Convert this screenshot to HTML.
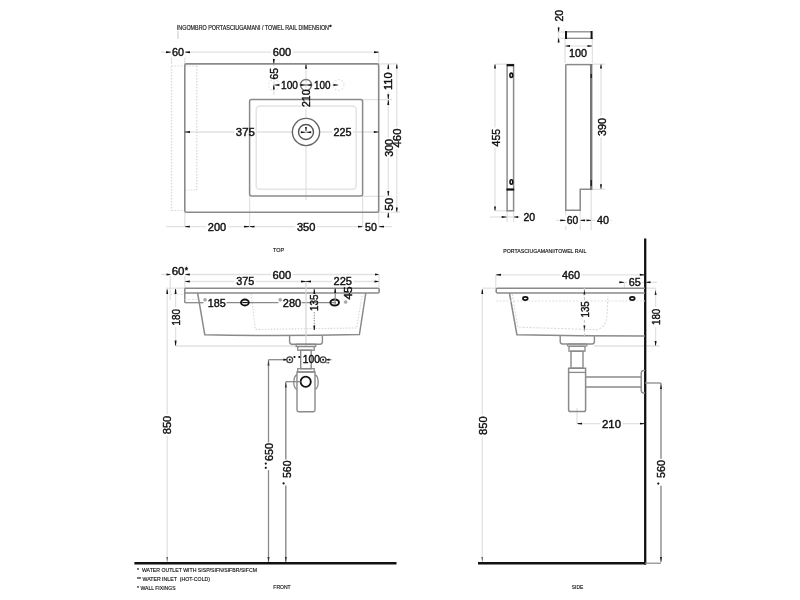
<!DOCTYPE html>
<html><head><meta charset="utf-8"><style>html,body{margin:0;padding:0;background:#fff;width:800px;height:600px;overflow:hidden}svg{display:block;will-change:transform}text{font-family:"Liberation Sans",sans-serif;fill:#111;stroke:#111;stroke-width:0.42px}text.sm{stroke-width:0.15px}</style></head>
<body><svg width="800" height="600" viewBox="0 0 800 600">
<rect x="0" y="0" width="800" height="600" fill="#fff"/>
<line x1="161" y1="52.2" x2="379" y2="52.2" stroke="#e2e2e2" stroke-width="1.3" />
<line x1="171.5" y1="52.2" x2="171.5" y2="64" stroke="#e2e2e2" stroke-width="1.3" />
<line x1="184.8" y1="52.2" x2="184.8" y2="64" stroke="#e2e2e2" stroke-width="1.3" />
<line x1="378.7" y1="52.2" x2="378.7" y2="64" stroke="#e2e2e2" stroke-width="1.3" />
<line x1="306" y1="64" x2="306" y2="200" stroke="#e2e2e2" stroke-width="1.3" />
<line x1="184.8" y1="132" x2="378.7" y2="132" stroke="#e2e2e2" stroke-width="1.3" />
<line x1="273.8" y1="52" x2="273.8" y2="95" stroke="#e2e2e2" stroke-width="1.3" />
<line x1="274" y1="85" x2="338.5" y2="85" stroke="#e2e2e2" stroke-width="1.3" />
<line x1="378.7" y1="63.9" x2="398" y2="63.9" stroke="#e2e2e2" stroke-width="1.3" />
<line x1="362.6" y1="99.6" x2="392" y2="99.6" stroke="#e2e2e2" stroke-width="1.3" />
<line x1="362.6" y1="196.3" x2="392" y2="196.3" stroke="#e2e2e2" stroke-width="1.3" />
<line x1="378.7" y1="212.2" x2="400" y2="212.2" stroke="#e2e2e2" stroke-width="1.3" />
<line x1="388.3" y1="64" x2="388.3" y2="218" stroke="#e2e2e2" stroke-width="1.3" />
<line x1="396.8" y1="64" x2="396.8" y2="213" stroke="#e2e2e2" stroke-width="1.3" />
<line x1="166" y1="226.6" x2="392" y2="226.6" stroke="#e2e2e2" stroke-width="1.3" />
<line x1="184.8" y1="212.5" x2="184.8" y2="226.6" stroke="#e2e2e2" stroke-width="1.3" />
<line x1="249.6" y1="196" x2="249.6" y2="226.6" stroke="#e2e2e2" stroke-width="1.3" />
<line x1="362.6" y1="196" x2="362.6" y2="226.6" stroke="#e2e2e2" stroke-width="1.3" />
<line x1="378.7" y1="212.5" x2="378.7" y2="226.6" stroke="#e2e2e2" stroke-width="1.3" />
<line x1="558.6" y1="26" x2="558.6" y2="43" stroke="#e2e2e2" stroke-width="1.3" />
<line x1="557" y1="32" x2="565" y2="32" stroke="#e2e2e2" stroke-width="1.3" />
<line x1="557" y1="38.2" x2="565" y2="38.2" stroke="#e2e2e2" stroke-width="1.3" />
<line x1="565" y1="38" x2="565" y2="63" stroke="#e2e2e2" stroke-width="1.3" />
<line x1="592.4" y1="38" x2="592.4" y2="63" stroke="#e2e2e2" stroke-width="1.3" />
<line x1="565" y1="46" x2="592.4" y2="46" stroke="#e2e2e2" stroke-width="1.3" />
<line x1="495" y1="64" x2="495" y2="211" stroke="#e2e2e2" stroke-width="1.3" />
<line x1="495" y1="64.2" x2="507" y2="64.2" stroke="#e2e2e2" stroke-width="1.3" />
<line x1="495" y1="210.8" x2="507" y2="210.8" stroke="#e2e2e2" stroke-width="1.3" />
<line x1="490" y1="217" x2="520" y2="217" stroke="#e2e2e2" stroke-width="1.3" />
<line x1="507.1" y1="211" x2="507.1" y2="222" stroke="#e2e2e2" stroke-width="1.3" />
<line x1="513.6" y1="211" x2="513.6" y2="222" stroke="#e2e2e2" stroke-width="1.3" />
<line x1="592" y1="64.2" x2="605" y2="64.2" stroke="#e2e2e2" stroke-width="1.3" />
<line x1="592" y1="189.3" x2="605" y2="189.3" stroke="#e2e2e2" stroke-width="1.3" />
<line x1="601" y1="64" x2="601" y2="189" stroke="#e2e2e2" stroke-width="1.3" />
<line x1="556" y1="220.4" x2="612" y2="220.4" stroke="#e2e2e2" stroke-width="1.3" />
<line x1="565.8" y1="210" x2="565.8" y2="230" stroke="#e2e2e2" stroke-width="1.3" />
<line x1="580.2" y1="210" x2="580.2" y2="230" stroke="#e2e2e2" stroke-width="1.3" />
<line x1="591.2" y1="190" x2="591.2" y2="230" stroke="#e2e2e2" stroke-width="1.3" />
<line x1="161" y1="274.5" x2="379" y2="274.5" stroke="#e2e2e2" stroke-width="1.3" />
<line x1="170.2" y1="274.5" x2="170.2" y2="300" stroke="#e2e2e2" stroke-width="1.3" />
<line x1="184.8" y1="274.5" x2="184.8" y2="288" stroke="#e2e2e2" stroke-width="1.3" />
<line x1="184.8" y1="281.5" x2="379" y2="281.5" stroke="#e2e2e2" stroke-width="1.3" />
<line x1="379" y1="274.5" x2="379" y2="288" stroke="#e2e2e2" stroke-width="1.3" />
<line x1="165.7" y1="288.2" x2="184.8" y2="288.2" stroke="#e2e2e2" stroke-width="1.3" />
<line x1="167.2" y1="288.2" x2="167.2" y2="563" stroke="#e2e2e2" stroke-width="1.3" />
<line x1="175.6" y1="288.2" x2="175.6" y2="308" stroke="#e2e2e2" stroke-width="1.3" />
<line x1="175.6" y1="326" x2="175.6" y2="346" stroke="#e2e2e2" stroke-width="1.3" />
<line x1="175.6" y1="346" x2="296" y2="346" stroke="#e2e2e2" stroke-width="1.3" />
<line x1="495.8" y1="274.8" x2="645" y2="274.8" stroke="#e2e2e2" stroke-width="1.3" />
<line x1="495.8" y1="274.8" x2="495.8" y2="288" stroke="#e2e2e2" stroke-width="1.3" />
<line x1="618.7" y1="282.3" x2="657" y2="282.3" stroke="#e2e2e2" stroke-width="1.3" />
<line x1="624.4" y1="282.3" x2="624.4" y2="288" stroke="#e2e2e2" stroke-width="1.3" />
<line x1="482.3" y1="289" x2="482.3" y2="563" stroke="#e2e2e2" stroke-width="1.3" />
<line x1="482.3" y1="288.2" x2="496" y2="288.2" stroke="#e2e2e2" stroke-width="1.3" />
<line x1="645" y1="288.2" x2="656" y2="288.2" stroke="#e2e2e2" stroke-width="1.3" />
<line x1="655.6" y1="288.2" x2="655.6" y2="307" stroke="#e2e2e2" stroke-width="1.3" />
<line x1="655.6" y1="327" x2="655.6" y2="346" stroke="#e2e2e2" stroke-width="1.3" />
<line x1="594" y1="346" x2="660" y2="346" stroke="#e2e2e2" stroke-width="1.3" />
<line x1="577" y1="408" x2="577" y2="423.6" stroke="#e2e2e2" stroke-width="1.3" />
<line x1="577" y1="423.6" x2="645" y2="423.6" stroke="#e2e2e2" stroke-width="1.3" />
<rect x="170.5" y="47" width="15" height="10.5" fill="#fff"/>
<rect x="271.3" y="46.8" width="21.399999999999977" height="10.5" fill="#fff"/>
<rect x="234.3" y="126.80000000000001" width="22.0" height="10.5" fill="#fff"/>
<rect x="332.1" y="126.80000000000001" width="21.0" height="10.5" fill="#fff"/>
<rect x="269" y="66.5" width="10.5" height="14.5" fill="#fff"/>
<rect x="279.5" y="79.6" width="20" height="10.5" fill="#fff"/>
<rect x="312.5" y="79.6" width="19.5" height="10.5" fill="#fff"/>
<rect x="301.2" y="88.0" width="10.5" height="20.5" fill="#fff"/>
<rect x="383" y="71.0" width="10.5" height="20.5" fill="#fff"/>
<rect x="383.8" y="137.5" width="10.5" height="20.80000000000001" fill="#fff"/>
<rect x="391.9" y="127.1" width="10.5" height="21.80000000000001" fill="#fff"/>
<rect x="383.5" y="196.4" width="10.5" height="15.799999999999983" fill="#fff"/>
<rect x="206.3" y="221.8" width="21.399999999999977" height="10.5" fill="#fff"/>
<rect x="295.4" y="221.8" width="21.5" height="10.5" fill="#fff"/>
<rect x="363.5" y="221.8" width="14.899999999999977" height="10.5" fill="#fff"/>
<rect x="553.6" y="8.5" width="10.5" height="14.600000000000001" fill="#fff"/>
<rect x="567.5" y="48.4" width="21" height="10.5" fill="#fff"/>
<rect x="490.6" y="127.5" width="10.5" height="20.400000000000006" fill="#fff"/>
<rect x="522.0" y="211.6" width="14.700000000000045" height="10.5" fill="#fff"/>
<rect x="597" y="116.5" width="10.5" height="21" fill="#fff"/>
<rect x="565.2" y="215.4" width="14.5" height="10.5" fill="#fff"/>
<rect x="595.5" y="215.4" width="15" height="10.5" fill="#fff"/>
<rect x="170.2" y="265.5" width="15.800000000000011" height="10.5" fill="#fff"/>
<rect x="271.1" y="269.6" width="21.599999999999966" height="10.5" fill="#fff"/>
<rect x="234.7" y="276.4" width="21.0" height="10.5" fill="#fff"/>
<rect x="332.0" y="276.4" width="21.5" height="10.5" fill="#fff"/>
<rect x="206.2" y="297.6" width="21.0" height="10.5" fill="#fff"/>
<rect x="281.3" y="297.6" width="21.30000000000001" height="10.5" fill="#fff"/>
<rect x="309.4" y="292.9" width="10.5" height="19.600000000000023" fill="#fff"/>
<rect x="343.4" y="285.0" width="10.5" height="16.100000000000023" fill="#fff"/>
<rect x="162.3" y="414.2" width="10.5" height="21.600000000000023" fill="#fff"/>
<rect x="171" y="307.5" width="10.5" height="19.5" fill="#fff"/>
<rect x="301.3" y="354.2" width="20.19999999999999" height="10.5" fill="#fff"/>
<rect x="264" y="441.5" width="10.5" height="21" fill="#fff"/>
<rect x="281.5" y="459.0" width="10.5" height="20.5" fill="#fff"/>
<rect x="560.5" y="269.9" width="21" height="10.5" fill="#fff"/>
<rect x="627.2" y="277.2" width="15.0" height="10.5" fill="#fff"/>
<rect x="580.3" y="299.8" width="10.5" height="19.19999999999999" fill="#fff"/>
<rect x="477.7" y="414.8" width="10.5" height="21.69999999999999" fill="#fff"/>
<rect x="651.4" y="307.3" width="10.5" height="19.19999999999999" fill="#fff"/>
<rect x="600.5" y="418.7" width="22" height="10.5" fill="#fff"/>
<rect x="656" y="458.5" width="10.5" height="20.899999999999977" fill="#fff"/>
<text class="sm" x="176.8" y="29.8" font-size="6.4" textLength="152.2" lengthAdjust="spacingAndGlyphs">INGOMBRO PORTASCIUGAMANI / TOWEL RAIL DIMENSION</text>
<text x="329.3" y="28.5" font-size="6" text-anchor="start" fill="#111" >*</text>
<line x1="178" y1="31.5" x2="178" y2="39" stroke="#888" stroke-width="0.9" stroke-dasharray="1,1"/>
<polygon points="166.00,53.15 170.80,52.55 170.80,51.85 166.00,51.25" fill="#111"/>
<polygon points="190.00,51.25 185.20,51.85 185.20,52.55 190.00,53.15" fill="#111"/>
<polygon points="374.00,53.15 378.60,52.55 378.60,51.85 374.00,51.25" fill="#111"/>
<text x="172" y="56" font-size="11" textLength="12" lengthAdjust="spacingAndGlyphs">60</text>
<text x="272.8" y="55.8" font-size="11" textLength="18.399999999999977" lengthAdjust="spacingAndGlyphs">600</text>
<line x1="171.5" y1="66" x2="171.5" y2="211" stroke="#d8d8d8" stroke-width="1.3" stroke-dasharray="1.5,1.5"/>
<line x1="196.8" y1="66" x2="196.8" y2="190" stroke="#d8d8d8" stroke-width="1.3" stroke-dasharray="1.5,1.5"/>
<line x1="171.5" y1="66" x2="197" y2="66" stroke="#d8d8d8" stroke-width="1.1" stroke-dasharray="1.5,1.5"/>
<line x1="184.8" y1="190" x2="197" y2="190" stroke="#d8d8d8" stroke-width="1.1" stroke-dasharray="1.5,1.5"/>
<line x1="171.5" y1="210.5" x2="184.8" y2="210.5" stroke="#d8d8d8" stroke-width="1.1" stroke-dasharray="1.5,1.5"/>
<rect x="184.8" y="63.9" width="193.9" height="148.4" rx="1.5" stroke="#8a8a8a" stroke-width="1.6" fill="none" />
<rect x="249.6" y="99.6" width="113" height="96.3" rx="2" stroke="#8a8a8a" stroke-width="1.5" fill="none" />
<rect x="256.2" y="105.9" width="100" height="83.4" rx="3.5" stroke="#e4e4e4" stroke-width="1.5" fill="none" />
<polygon points="190.00,131.05 184.80,131.65 184.80,132.35 190.00,132.95" fill="#111"/>
<polygon points="373.80,132.95 378.60,132.35 378.60,131.65 373.80,131.05" fill="#111"/>
<text x="235.8" y="135.8" font-size="11" textLength="19.0" lengthAdjust="spacingAndGlyphs">375</text>
<text x="333.6" y="135.8" font-size="11" textLength="18.0" lengthAdjust="spacingAndGlyphs">225</text>
<circle cx="306" cy="132" r="13.6" stroke="#666" stroke-width="1.4" fill="#fff" />
<circle cx="306" cy="132" r="7.5" stroke="#555" stroke-width="1.4" fill="none" />
<polygon points="300.80,133.15 305.60,132.50 305.60,131.90 300.80,131.25" fill="#111"/>
<polygon points="311.20,131.25 306.40,131.90 306.40,132.50 311.20,133.15" fill="#111"/>
<polygon points="305.10,127.00 305.70,131.50 306.30,131.50 306.90,127.00" fill="#111"/>
<circle cx="306" cy="85" r="5.5" stroke="#777" stroke-width="1.4" fill="none" />
<circle cx="274" cy="85" r="5.5" stroke="#e6e6e6" stroke-width="1.1" fill="none" stroke-dasharray="2,1.5"/>
<circle cx="338.5" cy="85" r="5.5" stroke="#e6e6e6" stroke-width="1.1" fill="none" stroke-dasharray="2,1.5"/>
<polygon points="306.95,68.80 306.35,64.40 305.65,64.40 305.05,68.80" fill="#111"/>
<polygon points="272.85,59.00 273.45,63.60 274.15,63.60 274.75,59.00" fill="#111"/>
<polygon points="274.75,89.60 274.15,85.20 273.45,85.20 272.85,89.60" fill="#111"/>
<text transform="translate(278,79.5) rotate(-90)" font-size="11" textLength="11.5" lengthAdjust="spacingAndGlyphs">65</text>
<polygon points="279.30,84.05 274.50,84.65 274.50,85.35 279.30,85.95" fill="#111"/>
<polygon points="333.50,85.95 338.00,85.35 338.00,84.65 333.50,84.05" fill="#111"/>
<text x="281" y="88.6" font-size="11" textLength="17" lengthAdjust="spacingAndGlyphs">100</text>
<text x="314" y="88.6" font-size="11" textLength="16.5" lengthAdjust="spacingAndGlyphs">100</text>
<polygon points="300.50,85.95 306.00,85.35 306.00,84.65 300.50,84.05" fill="#111"/>
<polygon points="311.50,84.05 306.00,84.65 306.00,85.35 311.50,85.95" fill="#111"/>
<text transform="translate(310.2,107) rotate(-90)" font-size="11" textLength="17.5" lengthAdjust="spacingAndGlyphs">210</text>
<polygon points="389.25,69.00 388.65,64.50 387.95,64.50 387.35,69.00" fill="#111"/>
<polygon points="387.35,94.20 387.95,99.00 388.65,99.00 389.25,94.20" fill="#111"/>
<polygon points="389.25,105.00 388.65,100.20 387.95,100.20 387.35,105.00" fill="#111"/>
<polygon points="397.75,68.50 397.15,64.50 396.45,64.50 395.85,68.50" fill="#111"/>
<polygon points="395.85,207.50 396.45,211.80 397.15,211.80 397.75,207.50" fill="#111"/>
<polygon points="387.35,191.00 387.95,195.80 388.65,195.80 389.25,191.00" fill="#111"/>
<polygon points="389.25,217.60 388.65,212.80 387.95,212.80 387.35,217.60" fill="#111"/>
<text transform="translate(392,90) rotate(-90)" font-size="11" textLength="17.5" lengthAdjust="spacingAndGlyphs">110</text>
<text transform="translate(392.8,156.8) rotate(-90)" font-size="11" textLength="17.80000000000001" lengthAdjust="spacingAndGlyphs">300</text>
<text transform="translate(400.9,147.4) rotate(-90)" font-size="11" textLength="18.80000000000001" lengthAdjust="spacingAndGlyphs">460</text>
<text transform="translate(392.5,210.7) rotate(-90)" font-size="11" textLength="12.799999999999983" lengthAdjust="spacingAndGlyphs">50</text>
<polygon points="189.80,225.65 185.20,226.25 185.20,226.95 189.80,227.55" fill="#111"/>
<polygon points="244.00,227.55 249.20,226.95 249.20,226.25 244.00,225.65" fill="#111"/>
<polygon points="254.50,225.65 250.00,226.25 250.00,226.95 254.50,227.55" fill="#111"/>
<polygon points="358.00,227.55 362.30,226.95 362.30,226.25 358.00,225.65" fill="#111"/>
<polygon points="384.00,225.65 379.20,226.25 379.20,226.95 384.00,227.55" fill="#111"/>
<text x="207.8" y="230.8" font-size="11" textLength="18.399999999999977" lengthAdjust="spacingAndGlyphs">200</text>
<text x="296.9" y="230.8" font-size="11" textLength="18.5" lengthAdjust="spacingAndGlyphs">350</text>
<text x="365" y="230.8" font-size="11" textLength="11.899999999999977" lengthAdjust="spacingAndGlyphs">50</text>
<line x1="566" y1="31.8" x2="592" y2="31.8" stroke="#8a8a8a" stroke-width="1.3" />
<line x1="565" y1="38.3" x2="592.5" y2="38.3" stroke="#8a8a8a" stroke-width="1.3" />
<line x1="566" y1="31" x2="566" y2="39" stroke="#111" stroke-width="2" />
<line x1="591.6" y1="31" x2="591.6" y2="39" stroke="#111" stroke-width="2" />
<polygon points="557.65,27.50 558.25,31.50 558.95,31.50 559.55,27.50" fill="#111"/>
<polygon points="559.55,42.50 558.95,38.50 558.25,38.50 557.65,42.50" fill="#111"/>
<text transform="translate(562.6,21.6) rotate(-90)" font-size="11" textLength="11.600000000000001" lengthAdjust="spacingAndGlyphs">20</text>
<polygon points="570.00,45.05 565.50,45.65 565.50,46.35 570.00,46.95" fill="#111"/>
<polygon points="587.50,46.95 592.00,46.35 592.00,45.65 587.50,45.05" fill="#111"/>
<text x="569" y="57.4" font-size="11" textLength="18" lengthAdjust="spacingAndGlyphs">100</text>
<rect x="507.1" y="64.6" width="6.5" height="146.2" rx="0" stroke="#8a8a8a" stroke-width="1.5" fill="none" />
<line x1="506.8" y1="65.2" x2="514" y2="65.2" stroke="#111" stroke-width="2.2" />
<line x1="506.5" y1="189.5" x2="514.2" y2="189.5" stroke="#111" stroke-width="2.2" />
<ellipse cx="511.3" cy="75.3" rx="1.4" ry="2.2" stroke="#111" stroke-width="1.6" fill="none"/>
<ellipse cx="511.4" cy="182" rx="1.4" ry="2.2" stroke="#111" stroke-width="1.6" fill="none"/>
<polygon points="495.95,68.50 495.35,64.50 494.65,64.50 494.05,68.50" fill="#111"/>
<polygon points="494.05,206.50 494.65,210.60 495.35,210.60 495.95,206.50" fill="#111"/>
<text transform="translate(499.6,146.4) rotate(-90)" font-size="11" textLength="17.400000000000006" lengthAdjust="spacingAndGlyphs">455</text>
<polygon points="501.70,217.95 506.60,217.35 506.60,216.65 501.70,216.05" fill="#111"/>
<polygon points="518.20,216.05 514.00,216.65 514.00,217.35 518.20,217.95" fill="#111"/>
<text x="523.5" y="220.6" font-size="11" textLength="11.700000000000045" lengthAdjust="spacingAndGlyphs">20</text>
<path d="M565.8,64.6 V210.2 H580.2 V189.3 H590.5" stroke="#8a8a8a" stroke-width="1.5" fill="none" />
<path d="M565.8,64.6 H591" stroke="#8a8a8a" stroke-width="1.5" fill="none" />
<line x1="591.2" y1="64" x2="591.2" y2="190" stroke="#777" stroke-width="2.4" />
<line x1="591.2" y1="74" x2="591.2" y2="78" stroke="#111" stroke-width="1.2" />
<line x1="591.2" y1="180" x2="591.2" y2="186" stroke="#111" stroke-width="1.2" />
<polygon points="601.95,68.50 601.35,64.50 600.65,64.50 600.05,68.50" fill="#111"/>
<polygon points="600.05,184.20 600.65,188.80 601.35,188.80 601.95,184.20" fill="#111"/>
<text transform="translate(606,136) rotate(-90)" font-size="11" textLength="18" lengthAdjust="spacingAndGlyphs">390</text>
<polygon points="560.20,221.35 565.40,220.75 565.40,220.05 560.20,219.45" fill="#111"/>
<polygon points="585.00,219.45 580.60,220.05 580.60,220.75 585.00,221.35" fill="#111"/>
<polygon points="586.50,221.35 590.80,220.75 590.80,220.05 586.50,219.45" fill="#111"/>
<text x="566.7" y="224.4" font-size="11" textLength="11.5" lengthAdjust="spacingAndGlyphs">60</text>
<text x="597" y="224.4" font-size="11" textLength="12" lengthAdjust="spacingAndGlyphs">40</text>
<text class="sm" x="273" y="252.4" font-size="6.1" textLength="11" lengthAdjust="spacingAndGlyphs">TOP</text>
<text class="sm" x="503.3" y="252.5" font-size="5.6" textLength="82.99999999999994" lengthAdjust="spacingAndGlyphs">PORTASCIUGAMANI/TOWEL RAIL</text>
<text class="sm" x="273.3" y="588.8" font-size="6.1" textLength="17.399999999999977" lengthAdjust="spacingAndGlyphs">FRONT</text>
<text class="sm" x="571.7" y="588.8" font-size="6.1" textLength="11.599999999999909" lengthAdjust="spacingAndGlyphs">SIDE</text>
<text class="sm" x="137" y="572.3" font-size="5.8" textLength="120" lengthAdjust="spacingAndGlyphs">*&#160;&#160;WATER OUTLET WITH SISP/SIFN/SIFBR/SIFCM</text>
<text class="sm" x="137" y="580.9" font-size="5.8" textLength="73" lengthAdjust="spacingAndGlyphs">** WATER INLET&#160; (HOT-COLD)</text>
<text class="sm" x="137" y="590" font-size="5.8" textLength="38.599999999999994" lengthAdjust="spacingAndGlyphs">* WALL FIXINGS</text>
<line x1="134.4" y1="563.2" x2="396.5" y2="563.2" stroke="#111" stroke-width="2.4" />
<polygon points="166.50,275.45 170.50,274.85 170.50,274.15 166.50,273.55" fill="#111"/>
<polygon points="189.80,273.55 185.20,274.15 185.20,274.85 189.80,275.45" fill="#111"/>
<polygon points="375.00,275.45 378.60,274.85 378.60,274.15 375.00,273.55" fill="#111"/>
<text x="171.7" y="274.5" font-size="11" textLength="12.800000000000011" lengthAdjust="spacingAndGlyphs">60</text>
<text x="184.8" y="272.5" font-size="8.5" text-anchor="start" fill="#111" >*</text>
<text x="272.6" y="278.6" font-size="11" textLength="18.599999999999966" lengthAdjust="spacingAndGlyphs">600</text>
<polygon points="189.80,280.55 185.20,281.15 185.20,281.85 189.80,282.45" fill="#111"/>
<polygon points="301.00,282.45 306.00,281.85 306.00,281.15 301.00,280.55" fill="#111"/>
<polygon points="311.00,280.55 306.00,281.15 306.00,281.85 311.00,282.45" fill="#111"/>
<polygon points="374.50,282.45 378.60,281.85 378.60,281.15 374.50,280.55" fill="#111"/>
<text x="236.2" y="285.4" font-size="11" textLength="18.0" lengthAdjust="spacingAndGlyphs">375</text>
<text x="333.5" y="285.4" font-size="11" textLength="18.5" lengthAdjust="spacingAndGlyphs">225</text>
<path d="M184.8,288.2 H377.8 Q379.2,288.2 379.2,289.6 V291.6 Q379.2,293 377.8,293 H184.8" stroke="#8a8a8a" stroke-width="1.6" fill="none" />
<line x1="184.8" y1="288.2" x2="184.8" y2="302.7" stroke="#8a8a8a" stroke-width="1.5" />
<path d="M197.6,293 L204.8,334.8 Q280,336.4 359.4,334.6 L365.8,293" stroke="#8a8a8a" stroke-width="1.5" fill="none" />
<path d="M251.2,294 L255.4,329.4 L356.7,328 L362.2,295" stroke="#d6d6d6" stroke-width="1.1" fill="none" stroke-dasharray="1.5,1.5"/>
<circle cx="334.7" cy="302.5" r="0.8" stroke="#111" stroke-width="0" fill="#111" />
<line x1="170" y1="294.3" x2="184" y2="294.3" stroke="#e0e0e0" stroke-width="1" stroke-dasharray="2,1.5"/>
<line x1="184.8" y1="299.5" x2="198" y2="299.5" stroke="#e0e0e0" stroke-width="1" stroke-dasharray="2,1.5"/>
<line x1="184.8" y1="302.7" x2="203.5" y2="302.7" stroke="#8a8a8a" stroke-width="1.3" />
<line x1="226.5" y1="302.7" x2="278.5" y2="302.7" stroke="#8a8a8a" stroke-width="1.3" />
<line x1="301.5" y1="302.7" x2="335" y2="302.7" stroke="#8a8a8a" stroke-width="1.3" />
<text x="207.7" y="306.6" font-size="11" textLength="18.0" lengthAdjust="spacingAndGlyphs">185</text>
<text x="282.8" y="306.6" font-size="11" textLength="18.30000000000001" lengthAdjust="spacingAndGlyphs">280</text>
<circle cx="205" cy="299.8" r="1.5" stroke="#999" stroke-width="0.5" fill="#aaa" />
<circle cx="280.2" cy="299.8" r="1.5" stroke="#999" stroke-width="0.5" fill="#aaa" />
<circle cx="345.6" cy="302" r="1.5" stroke="#999" stroke-width="0.5" fill="#aaa" />
<ellipse cx="244.9" cy="302.5" rx="3.9" ry="3.0" stroke="#111" stroke-width="1.9" fill="none"/>
<ellipse cx="334.7" cy="302.5" rx="4.3" ry="3.0" stroke="#111" stroke-width="1.9" fill="none"/>
<line x1="242.5" y1="302.5" x2="247.5" y2="302.5" stroke="#111" stroke-width="1.0" />
<line x1="335.2" y1="288.5" x2="335.2" y2="304" stroke="#8a8a8a" stroke-width="1.2" />
<polygon points="336.15,293.00 335.55,288.60 334.85,288.60 334.25,293.00" fill="#111"/>
<text transform="translate(318.4,311) rotate(-90)" font-size="11" textLength="16.600000000000023" lengthAdjust="spacingAndGlyphs">135</text>
<line x1="314.3" y1="289" x2="314.3" y2="294" stroke="#8a8a8a" stroke-width="1.2" />
<line x1="314.3" y1="312" x2="314.3" y2="330" stroke="#999" stroke-width="1.1" stroke-dasharray="1.5,1.2"/>
<polygon points="315.25,294.00 314.65,289.40 313.95,289.40 313.35,294.00" fill="#111"/>
<polygon points="313.35,325.50 313.95,330.00 314.65,330.00 315.25,325.50" fill="#111"/>
<text transform="translate(352.4,299.6) rotate(-90)" font-size="11" textLength="13.100000000000023" lengthAdjust="spacingAndGlyphs">45</text>
<line x1="306" y1="282" x2="306" y2="346" stroke="#d4d4d4" stroke-width="1.2" />
<polygon points="168.15,294.00 167.55,289.50 166.85,289.50 166.25,294.00" fill="#111"/>
<path d="M166.29999999999998,557 L167.2,562 L168.1,557 Z" fill="#666"/>
<text transform="translate(171.3,434.3) rotate(-90)" font-size="11" textLength="18.600000000000023" lengthAdjust="spacingAndGlyphs">850</text>
<polygon points="176.55,294.00 175.95,289.00 175.25,289.00 174.65,294.00" fill="#111"/>
<polygon points="174.65,340.50 175.25,345.50 175.95,345.50 176.55,340.50" fill="#111"/>
<text transform="translate(180,325.5) rotate(-90)" font-size="11" textLength="16.5" lengthAdjust="spacingAndGlyphs">180</text>
<path d="M289.6,336 V341.8 Q289.6,344.2 292,344.2 H320 Q322.4,344.2 322.4,341.8 V336" stroke="#8a8a8a" stroke-width="1.4" fill="none" />
<rect x="296.2" y="344.2" width="19.5" height="2.3" rx="0" stroke="#8a8a8a" stroke-width="1.3" fill="none" />
<rect x="297.7" y="346.5" width="16.5" height="3.7" rx="0" stroke="#8a8a8a" stroke-width="1.3" fill="none" />
<rect x="300.7" y="350.2" width="10.5" height="18.5" rx="0" stroke="#8a8a8a" stroke-width="1.4" fill="none" />
<rect x="297.7" y="368.7" width="16.5" height="3.3" rx="0" stroke="#8a8a8a" stroke-width="1.3" fill="none" />
<path d="M297,372 V410 Q297,411.7 298.7,411.7 H313.3 Q315,411.7 315,410 V372 Z" stroke="#8a8a8a" stroke-width="1.4" fill="none" />
<path d="M297,375 A3.2,7.2 0 0 0 297,389.4 M315,375 A3.2,7.2 0 0 1 315,389.4" stroke="#8a8a8a" stroke-width="1.3" fill="none" />
<circle cx="305.7" cy="381.7" r="5.1" stroke="#111" stroke-width="1.8" fill="none" />
<circle cx="289.7" cy="359.7" r="2.9" stroke="#444" stroke-width="1.3" fill="none" />
<circle cx="323.1" cy="359.7" r="2.9" stroke="#444" stroke-width="1.3" fill="none" />
<circle cx="289.7" cy="359.7" r="1.0" stroke="#111" stroke-width="0" fill="#111" />
<circle cx="323.1" cy="359.7" r="1.0" stroke="#111" stroke-width="0" fill="#111" />
<line x1="268.5" y1="359.7" x2="286.7" y2="359.7" stroke="#8a8a8a" stroke-width="1.3" />
<line x1="326" y1="359.7" x2="331.5" y2="359.7" stroke="#8a8a8a" stroke-width="1.3" />
<polygon points="283.50,360.80 286.80,359.95 286.80,359.45 283.50,358.60" fill="#111"/>
<polygon points="329.50,358.60 326.20,359.45 326.20,359.95 329.50,360.80" fill="#111"/>
<circle cx="294.5" cy="357" r="1.1" stroke="#111" stroke-width="0" fill="#111" />
<circle cx="299.3" cy="357" r="1.1" stroke="#111" stroke-width="0" fill="#111" />
<circle cx="327" cy="362.8" r="0.7" stroke="#333" stroke-width="0" fill="#333" />
<circle cx="328.6" cy="362.8" r="0.7" stroke="#333" stroke-width="0" fill="#333" />
<text x="302.8" y="363.2" font-size="10.6" textLength="17.19999999999999" lengthAdjust="spacingAndGlyphs">100</text>
<line x1="268.5" y1="359.7" x2="268.5" y2="442.5" stroke="#8a8a8a" stroke-width="1.3" />
<line x1="268.5" y1="470" x2="268.5" y2="562" stroke="#8a8a8a" stroke-width="1.3" />
<path d="M267.5,365.5 L268.5,360.5 L269.5,365.5 Z" fill="#333"/>
<path d="M267.5,557 L268.5,562 L269.5,557 Z" fill="#333"/>
<text transform="translate(273,461) rotate(-90)" font-size="11" textLength="18" lengthAdjust="spacingAndGlyphs">650</text>
<circle cx="265.8" cy="463.6" r="1.1" stroke="#111" stroke-width="0" fill="#111" />
<circle cx="265.8" cy="467.8" r="1.1" stroke="#111" stroke-width="0" fill="#111" />
<line x1="285.8" y1="381.7" x2="300.5" y2="381.7" stroke="#8a8a8a" stroke-width="1.3" />
<line x1="285.8" y1="381.7" x2="285.8" y2="459.5" stroke="#8a8a8a" stroke-width="1.4" />
<line x1="285.8" y1="485.5" x2="285.8" y2="562" stroke="#8a8a8a" stroke-width="1.4" />
<path d="M284.8,387.5 L285.8,382.5 L286.8,387.5 Z" fill="#333"/>
<path d="M284.8,557 L285.8,562 L286.8,557 Z" fill="#333"/>
<text transform="translate(290.5,478) rotate(-90)" font-size="11" textLength="17.5" lengthAdjust="spacingAndGlyphs">560</text>
<circle cx="283.6" cy="483.4" r="1.1" stroke="#111" stroke-width="0" fill="#111" />
<line x1="645.2" y1="238.4" x2="645.2" y2="564.4" stroke="#111" stroke-width="2.3" />
<line x1="478" y1="563.2" x2="646" y2="563.2" stroke="#111" stroke-width="2.4" />
<polygon points="501.00,273.85 496.30,274.45 496.30,275.15 501.00,275.75" fill="#111"/>
<polygon points="639.80,275.75 644.20,275.15 644.20,274.45 639.80,273.85" fill="#111"/>
<text x="562" y="278.9" font-size="11" textLength="18" lengthAdjust="spacingAndGlyphs">460</text>
<polygon points="619.30,283.25 623.80,282.65 623.80,281.95 619.30,281.35" fill="#111"/>
<polygon points="650.50,281.35 646.50,281.95 646.50,282.65 650.50,283.25" fill="#111"/>
<text x="628.7" y="286.2" font-size="11" textLength="12.0" lengthAdjust="spacingAndGlyphs">65</text>
<path d="M645,288.2 H497.6 Q496.2,288.2 496.2,289.6 V291.6 Q496.2,293 497.6,293 H645" stroke="#8a8a8a" stroke-width="1.6" fill="none" />
<path d="M509.4,293 L516.9,334.7 Q580,336 645,336" stroke="#8a8a8a" stroke-width="1.5" fill="none" />
<path d="M512.2,294 L517.8,327.2 L597.6,329.7 Q606.5,326 607,316 L607.9,296" stroke="#dadada" stroke-width="1.1" fill="none" stroke-dasharray="2,1.5"/>
<line x1="496" y1="301" x2="645" y2="301" stroke="#e0e0e0" stroke-width="1.1" stroke-dasharray="2,1.5"/>
<ellipse cx="525.3" cy="298.5" rx="2.4" ry="1.6" stroke="#111" stroke-width="1.7" fill="none"/>
<ellipse cx="632.3" cy="298.5" rx="2.4" ry="1.6" stroke="#111" stroke-width="1.7" fill="none"/>
<line x1="584.4" y1="288" x2="584.4" y2="300" stroke="#c8c8c8" stroke-width="1.1" stroke-dasharray="3,1.5"/>
<line x1="584.4" y1="320" x2="584.4" y2="336" stroke="#c8c8c8" stroke-width="1.1" stroke-dasharray="3,1.5"/>
<path d="M583.4,294.5 L584.4,289.5 L585.4,294.5 Z" fill="#222"/>
<path d="M583.4,325.5 L584.4,330.5 L585.4,325.5 Z" fill="#222"/>
<text transform="translate(589.3,317.5) rotate(-90)" font-size="11" textLength="16.19999999999999" lengthAdjust="spacingAndGlyphs">135</text>
<polygon points="483.25,294.00 482.65,289.50 481.95,289.50 481.35,294.00" fill="#111"/>
<path d="M481.40000000000003,557 L482.3,562 L483.2,557 Z" fill="#666"/>
<text transform="translate(486.7,435) rotate(-90)" font-size="11" textLength="18.69999999999999" lengthAdjust="spacingAndGlyphs">850</text>
<path d="M654.6,295 L655.6,290 L656.6,295 Z" fill="#222"/>
<polygon points="654.65,341.00 655.25,345.60 655.95,345.60 656.55,341.00" fill="#111"/>
<text transform="translate(660.4,325) rotate(-90)" font-size="11" textLength="16.19999999999999" lengthAdjust="spacingAndGlyphs">180</text>
<path d="M560.2,336 V341.6 Q560.2,344 562.6,344 H592 Q594.4,344 594.4,341.6 V336" stroke="#8a8a8a" stroke-width="1.4" fill="none" />
<rect x="567.4" y="344" width="19.6" height="2.2" rx="1" stroke="#8a8a8a" stroke-width="1.1" fill="none" />
<rect x="569" y="346.2" width="16" height="5" rx="0" stroke="#8a8a8a" stroke-width="1.3" fill="none" />
<rect x="571" y="351.2" width="12" height="17" rx="0" stroke="#8a8a8a" stroke-width="1.4" fill="none" />
<path d="M568.6,368.2 H585.6 V409.8 Q585.6,411.6 583.8,411.6 H570.4 Q568.6,411.6 568.6,409.8 Z" stroke="#8a8a8a" stroke-width="1.5" fill="none" />
<line x1="568.6" y1="372.4" x2="585.6" y2="372.4" stroke="#8a8a8a" stroke-width="1.3" />
<line x1="585.6" y1="377" x2="641" y2="377" stroke="#8a8a8a" stroke-width="1.5" />
<line x1="585.6" y1="387" x2="641" y2="387" stroke="#8a8a8a" stroke-width="1.5" />
<path d="M645,370.5 H643.5 Q641.2,370.5 641.2,373.5 V390 Q641.2,393 643.5,393 H645" stroke="#8a8a8a" stroke-width="1.4" fill="none" />
<polygon points="582.00,422.65 577.50,423.25 577.50,423.95 582.00,424.55" fill="#111"/>
<polygon points="640.00,424.55 644.20,423.95 644.20,423.25 640.00,422.65" fill="#111"/>
<text x="602" y="427.7" font-size="11" textLength="19" lengthAdjust="spacingAndGlyphs">210</text>
<line x1="645" y1="383" x2="661" y2="383" stroke="#8a8a8a" stroke-width="1.3" />
<line x1="661" y1="383" x2="661" y2="458.8" stroke="#8a8a8a" stroke-width="1.4" />
<line x1="661" y1="485.8" x2="661" y2="562" stroke="#8a8a8a" stroke-width="1.4" />
<path d="M660.0,557 L661,562 L662.0,557 Z" fill="#222"/>
<path d="M660.0,389 L661,384 L662.0,389 Z" fill="#222"/>
<line x1="645" y1="563.2" x2="661" y2="563.2" stroke="#8a8a8a" stroke-width="1.2" />
<text transform="translate(665,477.9) rotate(-90)" font-size="11" textLength="17.899999999999977" lengthAdjust="spacingAndGlyphs">560</text>
<circle cx="658.3" cy="483.6" r="1.1" stroke="#111" stroke-width="0" fill="#111" />
</svg></body></html>
